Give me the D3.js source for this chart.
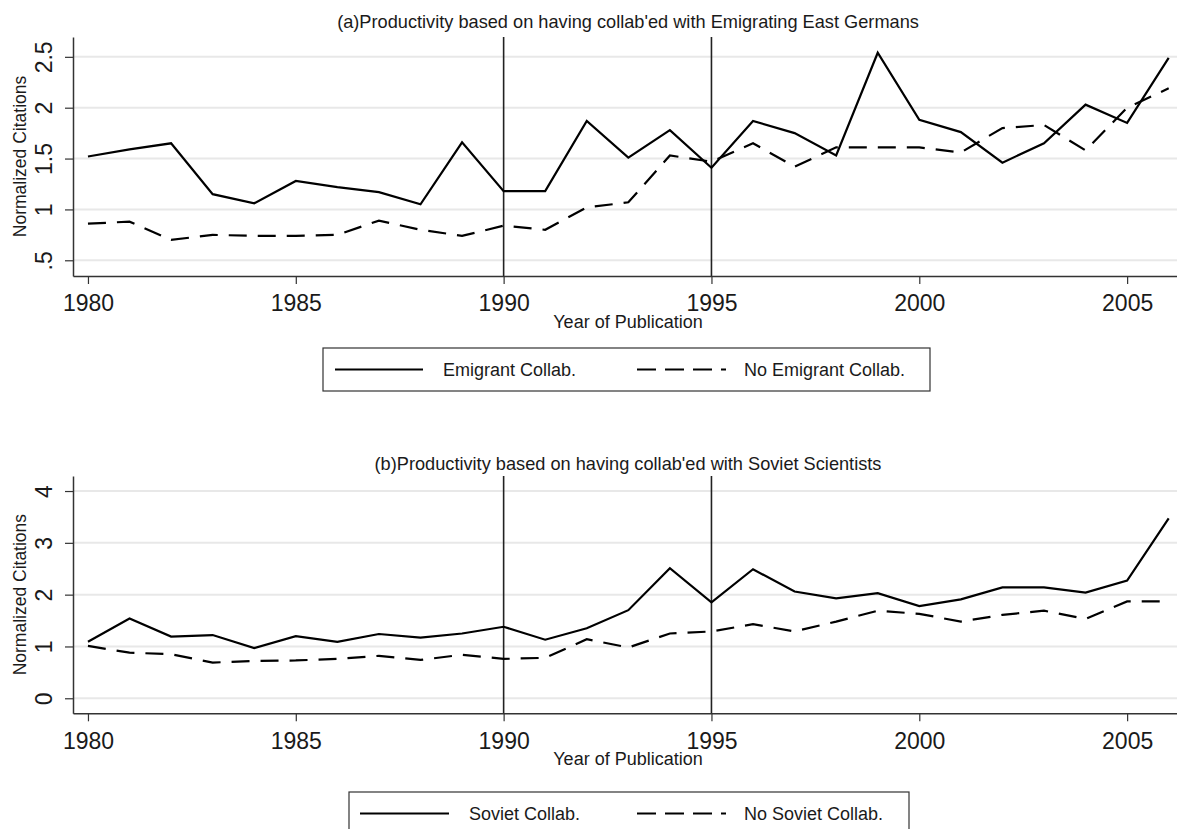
<!DOCTYPE html>
<html lang="en">
<head>
    <meta charset="UTF-8">
    <title>Productivity and collaboration</title>
    <script src="https://cdn.jsdelivr.net/npm/d3@7/dist/d3.min.js"></script>
    <style>
        body{
            margin: 0;
            background-color: #fff;
        }
        svg text{
            font-family: "Liberation Sans", Arial, sans-serif;
            fill: #1a1a1a;
        }
    </style>
</head>
<body>
<script>
    // Years on the x axis
    const years = [1980, 1981, 1982, 1983, 1984, 1985, 1986, 1987, 1988, 1989,
                   1990, 1991, 1992, 1993, 1994, 1995, 1996, 1997, 1998, 1999,
                   2000, 2001, 2002, 2003, 2004, 2005, 2006];
    const xTicks = [1980, 1985, 1990, 1995, 2000, 2005];
    const markerYears = [1990, 1995];

    // Panel (a): East German emigrants
    const emigrantCollab = [1.52, 1.59, 1.65, 1.15, 1.06, 1.28, 1.22, 1.17, 1.05, 1.66,
                            1.18, 1.18, 1.87, 1.51, 1.78, 1.41, 1.87, 1.75, 1.53, 2.54,
                            1.88, 1.76, 1.46, 1.65, 2.03, 1.85, 2.49];
    const noEmigrantCollab = [0.86, 0.88, 0.70, 0.75, 0.74, 0.74, 0.75, 0.89, 0.80, 0.74,
                              0.84, 0.80, 1.02, 1.07, 1.53, 1.47, 1.65, 1.42, 1.61, 1.61,
                              1.61, 1.56, 1.80, 1.83, 1.58, 2.00, 2.19];
    const yTicksA = [0.5, 1, 1.5, 2, 2.5];
    const yTickLabelsA = [".5", "1", "1.5", "2", "2.5"];

    // Panel (b): Soviet scientists
    const sovietCollab = [1.09, 1.54, 1.19, 1.22, 0.97, 1.20, 1.09, 1.24, 1.17, 1.25,
                          1.38, 1.13, 1.35, 1.70, 2.51, 1.85, 2.49, 2.06, 1.93, 2.03,
                          1.78, 1.91, 2.14, 2.14, 2.04, 2.27, 3.47];
    const noSovietCollab = [1.01, 0.88, 0.85, 0.69, 0.72, 0.73, 0.76, 0.82, 0.74, 0.84,
                            0.76, 0.78, 1.14, 0.98, 1.25, 1.29, 1.43, 1.29, 1.48, 1.69,
                            1.63, 1.48, 1.61, 1.69, 1.53, 1.87, 1.87];
    const yTicksB = [0, 1, 2, 3, 4];
    const yTickLabelsB = ["0", "1", "2", "3", "4"];

    const width = 1177;
    const height = 829;
    const left = 73, right = 1177;

    const svg = d3.select("body")
        .append("svg")
        .attr("width", width)
        .attr("height", height);

    // same x scale for both panels
    const x = d3.scaleLinear()
        .domain([1979.64, 2006.2])
        .range([left, right]);

    function drawPanel(p) {
        const y = d3.scaleLinear()
            .domain(p.yDomain)
            .range([p.bottom, p.top]);

        const g = svg.append("g");

        // title
        g.append("text")
            .attr("x", 628)
            .attr("y", p.titleY)
            .attr("text-anchor", "middle")
            .style("font-size", "18.2px")
            .text(p.title);

        // gridlines
        g.selectAll(".grid")
            .data(p.yTicks)
            .enter()
            .append("line")
            .attr("x1", left)
            .attr("x2", right)
            .attr("y1", d => y(d))
            .attr("y2", d => y(d))
            .attr("stroke", "#e8e8e8")
            .attr("stroke-width", 2);

        // vertical markers
        g.selectAll(".marker")
            .data(markerYears)
            .enter()
            .append("line")
            .attr("x1", d => x(d))
            .attr("x2", d => x(d))
            .attr("y1", p.top)
            .attr("y2", p.bottom)
            .attr("stroke", "#222")
            .attr("stroke-width", 1.6);

        // x axis
        const xAxis = g.append("g")
            .attr("transform", `translate(0,${p.bottom})`)
            .call(d3.axisBottom(x).tickValues(xTicks).tickFormat(d3.format("d"))
                .tickSize(8).tickSizeOuter(0).tickPadding(11));
        xAxis.select(".domain").attr("stroke", "#333").attr("stroke-width", 1.5);
        xAxis.selectAll(".tick line").attr("stroke", "#333").attr("stroke-width", 1.2);
        xAxis.selectAll("text").style("font-size", "23px").style("font-family", "Liberation Sans, Arial, sans-serif").attr("fill", "#1a1a1a");

        // y axis with rotated labels
        const yAxis = g.append("g")
            .attr("transform", `translate(${left},0)`)
            .call(d3.axisLeft(y).tickValues(p.yTicks)
                .tickFormat((d, i) => p.yTickLabels[i])
                .tickSize(8).tickSizeOuter(0));
        yAxis.select(".domain").attr("stroke", "#333").attr("stroke-width", 1.5);
        yAxis.selectAll(".tick line").attr("stroke", "#333").attr("stroke-width", 1.2);
        yAxis.selectAll("text")
            .attr("x", null)
            .attr("dy", null)
            .attr("transform", "translate(-21,0) rotate(-90)")
            .style("text-anchor", "middle")
            .style("font-size", "23px")
            .style("font-family", "Liberation Sans, Arial, sans-serif")
            .attr("fill", "#1a1a1a");

        // axis titles
        g.append("text")
            .attr("transform", `translate(26,${(p.top + p.bottom) / 2}) rotate(-90)`)
            .attr("text-anchor", "middle")
            .style("font-size", "17.5px")
            .text("Normalized Citations");

        g.append("text")
            .attr("x", 628)
            .attr("y", p.bottom + 52)
            .attr("text-anchor", "middle")
            .style("font-size", "18px")
            .text("Year of Publication");

        // data lines
        const line = d3.line()
            .x((d, i) => x(years[i]))
            .y(d => y(d));

        g.append("path")
            .datum(p.dashed)
            .attr("d", line)
            .attr("fill", "none")
            .attr("stroke", "#000")
            .attr("stroke-width", 2.2)
            .attr("stroke-dasharray", "18,11");

        g.append("path")
            .datum(p.solid)
            .attr("d", line)
            .attr("fill", "none")
            .attr("stroke", "#000")
            .attr("stroke-width", 2.2);

        // legend
        const lg = g.append("g")
            .attr("transform", `translate(${p.legendX},${p.legendY})`);
        lg.append("rect")
            .attr("width", p.legendW)
            .attr("height", 43)
            .attr("fill", "#fff")
            .attr("stroke", "#333")
            .attr("stroke-width", 1.2);
        lg.append("line")
            .attr("x1", p.legendSolid[0]).attr("x2", p.legendSolid[1])
            .attr("y1", 21.5).attr("y2", 21.5)
            .attr("stroke", "#000").attr("stroke-width", 2.2);
        lg.append("text")
            .attr("x", p.legendSolid[1] + 20)
            .attr("y", 28)
            .style("font-size", "18px")
            .text(p.labels[0]);
        lg.append("line")
            .attr("x1", 637 - p.legendX).attr("x2", 726 - p.legendX)
            .attr("y1", 21.5).attr("y2", 21.5)
            .attr("stroke", "#000").attr("stroke-width", 2.2)
            .attr("stroke-dasharray", "19,9");
        lg.append("text")
            .attr("x", 744 - p.legendX)
            .attr("y", 28)
            .style("font-size", "18px")
            .text(p.labels[1]);
    }

    drawPanel({
        title: "(a)Productivity based on having collab'ed with Emigrating East Germans",
        titleY: 28,
        top: 37, bottom: 276,
        yDomain: [0.3455, 2.695],
        yTicks: yTicksA, yTickLabels: yTickLabelsA,
        solid: emigrantCollab, dashed: noEmigrantCollab,
        labels: ["Emigrant Collab.", "No Emigrant Collab."],
        legendX: 323, legendY: 348, legendW: 607,
        legendSolid: [12, 100]
    });

    drawPanel({
        title: "(b)Productivity based on having collab'ed with Soviet Scientists",
        titleY: 470,
        top: 476, bottom: 713.3,
        yDomain: [-0.29, 4.29],
        yTicks: yTicksB, yTickLabels: yTickLabelsB,
        solid: sovietCollab, dashed: noSovietCollab,
        labels: ["Soviet Collab.", "No Soviet Collab."],
        legendX: 349, legendY: 792, legendW: 560,
        legendSolid: [11, 100]
    });
</script>
</body>
</html>
